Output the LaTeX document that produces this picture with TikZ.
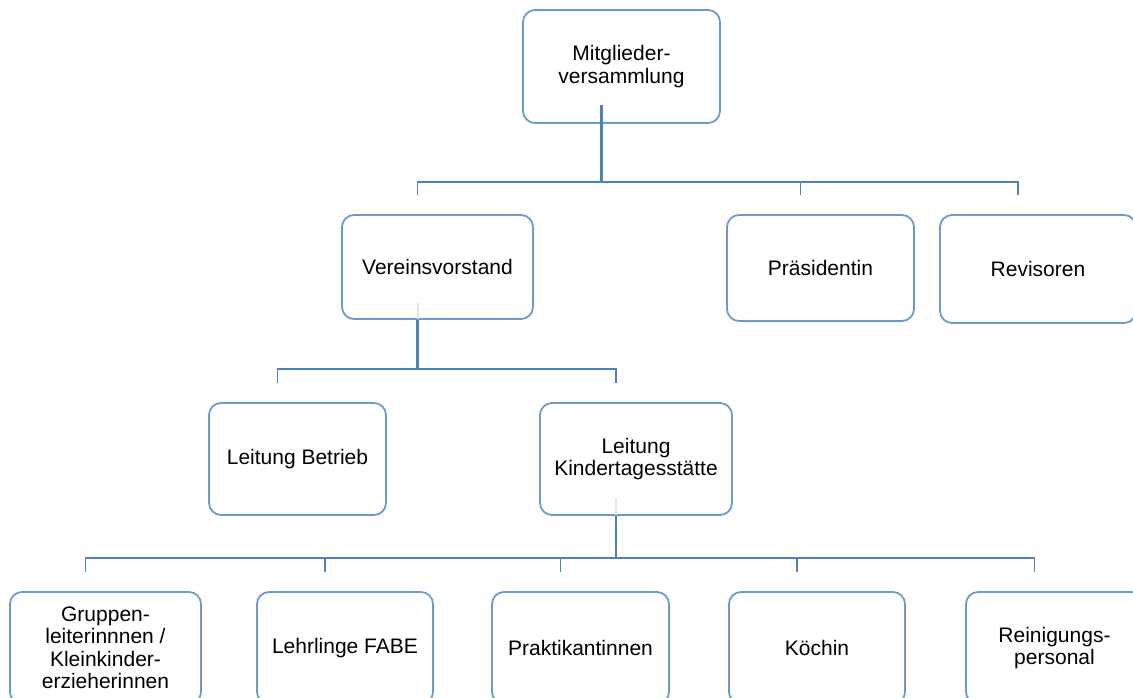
\documentclass[tikz,border=0pt]{standalone}
\usepackage{fontspec}
\setmainfont{Liberation Sans}
\usetikzlibrary{calc}
\definecolor{boxblue}{HTML}{6F9AD0}
\definecolor{linkblue}{HTML}{4F81BD}
\definecolor{faintblue}{HTML}{DDE7F3}
\begin{document}
\begin{tikzpicture}[x=1pt,y=-1pt,
  orgbox/.style={draw=boxblue, line width=1.8pt, rounded corners=12pt, fill=white,
    align=center, inner sep=0pt, text=black, font=\fontsize{21}{22.5}\selectfont},
  link/.style={draw=linkblue, line width=1.6pt},
  trunk/.style={draw=linkblue, line width=2.2pt},
  innerlink/.style={draw=faintblue, line width=2pt}]
\useasboundingbox (0,0) rectangle (1133,697);
\clip (0,0) rectangle (1133,697);
% top
\node[orgbox, minimum width=197pt, minimum height=113pt] (m) at (621.5,66.5) {Mitglieder-\\versammlung};
% second row
\node[orgbox, minimum width=191pt, minimum height=104pt] (v) at (437.5,267) {Vereinsvorstand};
\node[orgbox, minimum width=187pt, minimum height=106pt] (p) at (820.5,268) {Präsidentin};
\node[orgbox, minimum width=196pt, minimum height=108pt] (r) at (1038,269) {Revisoren};
% third row
\node[orgbox, minimum width=177pt, minimum height=112pt] (lb) at (297.5,459) {Leitung Betrieb};
\node[orgbox, minimum width=192pt, minimum height=112pt] (lk) at (636,459) {Leitung\\Kindertagesstätte};
% bottom row
\node[orgbox, minimum width=191pt, minimum height=112pt] (g) at (105.5,648) {Gruppen-\\leiterinnnen /\\Kleinkinder-\\erzieherinnen};
\node[orgbox, minimum width=176pt, minimum height=112pt] (l) at (345,648) {Lehrlinge FABE};
\node[orgbox, minimum width=177pt, minimum height=112pt] (pk) at (580.5,648) {Praktikantinnen};
\node[orgbox, minimum width=176pt, minimum height=112pt] (k) at (817,648) {Köchin};
\node[orgbox, minimum width=177pt, minimum height=112pt] (rp) at (1054.5,648) {Reinigungs-\\personal};
% hubs
\coordinate (mstart) at ($(m.south)+(-20,-19)$);
\coordinate (h1) at ($(m.south)+(-20,58)$);
\coordinate (vstart) at ($(v.south)+(-20,-17)$);
\coordinate (h2) at ($(v.south)+(-20,49)$);
\coordinate (lkstart) at ($(lk.south)+(-20,-18)$);
\coordinate (h3) at ($(lk.south)+(-20,42)$);
% level 1
\draw[trunk] (mstart) -- (h1);
\draw[link] ($(v.north)+(-20,-19)$) |- (h1);
\draw[link] ($(p.north)+(-20,-19)$) |- (h1);
\draw[link] ($(r.north)+(-20,-19)$) |- (h1);
% level 2
\draw[innerlink] (vstart) -- ($(v.south)+(-20,-1)$);
\draw[trunk] ($(v.south)+(-20,0)$) -- (h2);
\draw[link] ($(lb.north)+(-20,-19)$) |- (h2);
\draw[link] ($(lk.north)+(-20,-19)$) |- (h2);
% level 3
\draw[innerlink] (lkstart) -- ($(lk.south)+(-20,-1)$);
\draw[trunk] ($(lk.south)+(-20,0)$) -- (h3);
\draw[link] ($(g.north)+(-20,-19)$) |- (h3);
\draw[link] ($(l.north)+(-20,-19)$) |- (h3);
\draw[link] ($(pk.north)+(-20,-19)$) |- (h3);
\draw[link] ($(k.north)+(-20,-19)$) |- (h3);
\draw[link] ($(rp.north)+(-20,-19)$) |- (h3);
\end{tikzpicture}
\end{document}
